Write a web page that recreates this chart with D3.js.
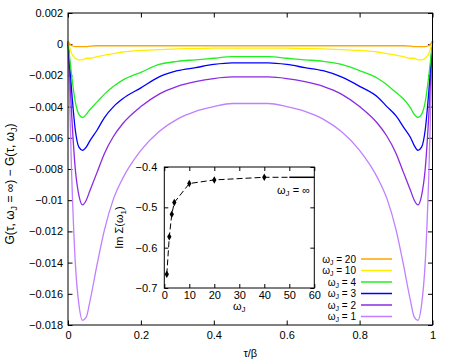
<!DOCTYPE html>
<html>
<head>
<meta charset="utf-8">
<script src="https://cdn.jsdelivr.net/npm/d3@7"></script>
<style>
    body { margin: 0; background: #fff; }
    text { font-family: "Liberation Sans", Arial, sans-serif; }
</style>
</head>
<body>
<div class="chart"></div>
<script>
// tau / beta sample points
const tau = [0, 0.01, 0.02, 0.03, 0.04, 0.05, 0.06, 0.08, 0.1, 0.125, 0.15, 0.2, 0.25, 0.3, 0.35, 0.4, 0.45, 0.5,
    0.55, 0.6, 0.65, 0.7, 0.75, 0.8, 0.85, 0.875, 0.9, 0.92, 0.94, 0.95, 0.96, 0.97, 0.98, 0.99, 1]

const g20 = [0.0002, -0.0001, -0.00015, -0.00015, -0.00015, -0.00015, -0.00012, -0.0001, -0.0001, -0.0001, -0.0001, -0.0001, -0.0001, -0.0001, -0.0001, -0.0001, -0.0001, -0.0001,
    -0.0001, -0.0001, -0.0001, -0.0001, -0.0001, -0.0001, -0.0001, -0.0001, -0.0001, -0.0001, -0.00012, -0.00015, -0.00015, -0.00015, -0.00015, -0.0001, 0.0002]
const g10 = [0.0002, -0.0006, -0.0009, -0.001, -0.001, -0.0009, -0.0009, -0.0008, -0.0007, -0.0006, -0.0005, -0.0004, -0.00035, -0.0003, -0.00028, -0.00025, -0.00025, -0.00025,
    -0.00025, -0.00025, -0.00028, -0.0003, -0.00035, -0.0004, -0.0005, -0.0006, -0.0007, -0.0008, -0.0009, -0.0009, -0.001, -0.001, -0.0009, -0.0006, 0.0002]
const g4 = [0.0002, -0.002, -0.0037, -0.0045, -0.0047, -0.0045, -0.0042, -0.0037, -0.0032, -0.0027, -0.0023, -0.0018, -0.0013, -0.0011, -0.001, -0.0009, -0.0008, -0.0008,
    -0.0008, -0.0009, -0.001, -0.0011, -0.0013, -0.0017, -0.0022, -0.0026, -0.0031, -0.0035, -0.0041, -0.0045, -0.0047, -0.0045, -0.0037, -0.002, 0.0002]
const g3 = [0.0002, -0.003, -0.0055, -0.0066, -0.0068, -0.0066, -0.0062, -0.0055, -0.0047, -0.004, -0.0035, -0.0028, -0.0021, -0.0017, -0.0015, -0.0013, -0.0012, -0.0012,
    -0.0012, -0.0013, -0.0015, -0.0017, -0.0021, -0.0027, -0.0034, -0.004, -0.0046, -0.0053, -0.006, -0.0065, -0.0068, -0.0066, -0.0055, -0.003, 0.0002]
const g2 = [0.0002, -0.0045, -0.008, -0.0097, -0.0103, -0.01, -0.0094, -0.0082, -0.007, -0.0059, -0.0051, -0.004, -0.0032, -0.0027, -0.0024, -0.0022, -0.0021, -0.0021,
    -0.0021, -0.0022, -0.0024, -0.0027, -0.0032, -0.004, -0.0051, -0.0059, -0.007, -0.0082, -0.0094, -0.01, -0.0103, -0.0097, -0.008, -0.0045, 0.0002]
const g1 = [0.0002, -0.0083, -0.014, -0.0167, -0.0177, -0.0175, -0.0165, -0.0141, -0.0119, -0.0099, -0.0086, -0.0068, -0.0056, -0.0048, -0.0043, -0.004, -0.0038, -0.0038,
    -0.0038, -0.004, -0.0043, -0.0048, -0.0056, -0.0068, -0.0086, -0.0099, -0.0119, -0.0141, -0.0165, -0.0175, -0.0177, -0.0167, -0.014, -0.0083, 0.0002]

const series = [
    { label: "20", values: g20, color: "#ffa500" },
    { label: "10", values: g10, color: "#ffee00" },
    { label: "4", values: g4, color: "#22ee22" },
    { label: "3", values: g3, color: "#0000ff" },
    { label: "2", values: g2, color: "#8a2be2" },
    { label: "1", values: g1, color: "#bf7fff" }
]

const xTicks = [0, 0.2, 0.4, 0.6, 0.8, 1]
const yTicks = [0.002, 0, -0.002, -0.004, -0.006, -0.008, -0.01, -0.012, -0.014, -0.016, -0.018]

// inset: Im Sigma(omega_1) vs omega_J
const insetOmega = [1, 2, 3, 4, 10, 20, 40]
const insetSigma = [-0.666, -0.573, -0.517, -0.488, -0.441, -0.432, -0.4255]
const sigmaInf = -0.4255
const insetXTicks = [0, 10, 20, 30, 40, 50, 60]
const insetYTicks = [-0.4, -0.5, -0.6, -0.7]

const W = 452, H = 361
const svg = d3.select(".chart").append("svg")
    .attr("width", W)
    .attr("height", H)

const fs = 11
const x = d3.scaleLinear().domain([0, 1]).range([68, 432.5])
const y = d3.scaleLinear().domain([-0.018, 0.002]).range([325, 13])

const fmt = d3.format("")

function styleAxis(g) {
    g.select(".domain").remove()
    g.selectAll(".tick line").attr("stroke", "#000")
    g.selectAll(".tick text").attr("fill", "#000").style("font-size", fs + "px")
        .style("font-family", "'Liberation Sans', Arial, sans-serif")
}

// main axes
svg.append("g")
    .attr("transform", `translate(0, ${y.range()[0]})`)
    .call(d3.axisBottom(x).tickValues(xTicks).tickFormat(fmt).tickSizeInner(-4.5).tickSizeOuter(0).tickPadding(6))
    .call(styleAxis)
svg.append("g")
    .attr("transform", `translate(0, ${y.range()[1]})`)
    .call(d3.axisTop(x).tickValues(xTicks).tickFormat("").tickSizeInner(-4.5).tickSizeOuter(0))
    .call(styleAxis)
svg.append("g")
    .attr("transform", `translate(${x.range()[0]}, 0)`)
    .call(d3.axisLeft(y).tickValues(yTicks).tickFormat(fmt).tickSizeInner(-4.5).tickSizeOuter(0).tickPadding(5))
    .call(styleAxis)
svg.append("g")
    .attr("transform", `translate(${x.range()[1]}, 0)`)
    .call(d3.axisRight(y).tickValues(yTicks).tickFormat("").tickSizeInner(-4.5).tickSizeOuter(0))
    .call(styleAxis)

// curves
const line = d3.line()
    .x((d, i) => x(tau[i]))
    .y(d => y(d))
    .curve(d3.curveMonotoneX)

svg.append("g").selectAll("path")
    .data(series.slice().reverse())
    .join("path")
    .attr("fill", "none")
    .attr("stroke", d => d.color)
    .attr("stroke-width", 1.3)
    .attr("d", d => line(d.values))

// frame
svg.append("rect")
    .attr("x", x.range()[0])
    .attr("y", y.range()[1])
    .attr("width", x.range()[1] - x.range()[0])
    .attr("height", y.range()[0] - y.range()[1])
    .attr("fill", "none")
    .attr("stroke", "#000")
    .attr("stroke-width", 1)

// helper for omega with subscript
function omegaText(sel, sub, rest, size) {
    size = size || fs
    sel.append("tspan").text("ω")
    sel.append("tspan").attr("dy", 2).style("font-size", (size - 3) + "px").text(sub)
    sel.append("tspan").attr("dy", -2).text(rest)
}

// axis titles
svg.append("text")
    .attr("x", (x.range()[0] + x.range()[1]) / 2)
    .attr("y", 357)
    .attr("text-anchor", "middle")
    .style("font-size", fs + "px")
    .text("τ/β")

const yt = svg.append("text")
    .attr("transform", "translate(14, 184) rotate(-90)")
    .attr("text-anchor", "middle")
    .style("font-size", "12px")
yt.append("tspan").text("G(τ, ω")
yt.append("tspan").attr("dy", 3).style("font-size", "9px").text("J")
yt.append("tspan").attr("dy", -3).text(" = ∞) − G(τ, ω")
yt.append("tspan").attr("dy", 3).style("font-size", "9px").text("J")
yt.append("tspan").attr("dy", -3).text(")")

// legend
const legend = svg.append("g")
series.forEach((s, i) => {
    const ly = 259 + i * 11.5
    const t = legend.append("text")
        .attr("x", 356)
        .attr("y", ly + 3.5)
        .attr("text-anchor", "end")
        .style("font-size", "10px")
    omegaText(t, "J", " = " + s.label, 10)
    legend.append("line")
        .attr("x1", 361).attr("x2", 392)
        .attr("y1", ly).attr("y2", ly)
        .attr("stroke", s.color)
        .attr("stroke-width", 1.5)
})

// inset
const ix = d3.scaleLinear().domain([0, 60]).range([164.3, 314.3])
const iy = d3.scaleLinear().domain([-0.7, -0.4]).range([288, 167])

svg.append("rect")
    .attr("x", ix.range()[0])
    .attr("y", iy.range()[1])
    .attr("width", ix.range()[1] - ix.range()[0])
    .attr("height", iy.range()[0] - iy.range()[1])
    .attr("fill", "#fff")

svg.append("g")
    .attr("transform", `translate(0, ${iy.range()[0]})`)
    .call(d3.axisBottom(ix).tickValues(insetXTicks).tickFormat(fmt).tickSizeInner(-4).tickSizeOuter(0).tickPadding(3))
    .call(styleAxis)
svg.append("g")
    .attr("transform", `translate(0, ${iy.range()[1]})`)
    .call(d3.axisTop(ix).tickValues(insetXTicks).tickFormat("").tickSizeInner(-4).tickSizeOuter(0))
    .call(styleAxis)
svg.append("g")
    .attr("transform", `translate(${ix.range()[0]}, 0)`)
    .call(d3.axisLeft(iy).tickValues(insetYTicks).tickFormat(fmt).tickSizeInner(-4).tickSizeOuter(0).tickPadding(7))
    .call(styleAxis)
svg.append("g")
    .attr("transform", `translate(${ix.range()[1]}, 0)`)
    .call(d3.axisRight(iy).tickValues(insetYTicks).tickFormat("").tickSizeInner(-4).tickSizeOuter(0))
    .call(styleAxis)

const insetData = insetOmega.map((w, i) => [w, insetSigma[i]])
svg.append("path")
    .datum(insetData.concat([[50, sigmaInf]]))
    .attr("fill", "none")
    .attr("stroke", "#000")
    .attr("stroke-width", 1)
    .attr("stroke-dasharray", "6,3")
    .attr("d", d3.line().x(d => ix(d[0])).y(d => iy(d[1])))

svg.append("line")
    .attr("x1", ix(50)).attr("x2", ix(60))
    .attr("y1", iy(sigmaInf)).attr("y2", iy(sigmaInf))
    .attr("stroke", "#000")
    .attr("stroke-width", 1.5)

svg.append("g").selectAll("path")
    .data(insetData)
    .join("path")
    .attr("transform", d => `translate(${ix(d[0])}, ${iy(d[1])})`)
    .attr("d", d3.symbol(d3.symbolDiamond, 16))
    .attr("fill", "#000")

svg.append("rect")
    .attr("x", ix.range()[0])
    .attr("y", iy.range()[1])
    .attr("width", ix.range()[1] - ix.range()[0])
    .attr("height", iy.range()[0] - iy.range()[1])
    .attr("fill", "none")
    .attr("stroke", "#000")

const inf = svg.append("text")
    .attr("x", 310)
    .attr("y", 194)
    .attr("text-anchor", "end")
    .style("font-size", fs + "px")
omegaText(inf, "J", " = ∞")

const ixt = svg.append("text")
    .attr("x", (ix.range()[0] + ix.range()[1]) / 2)
    .attr("y", 310)
    .attr("text-anchor", "middle")
    .style("font-size", fs + "px")
omegaText(ixt, "J", "")

const iyt = svg.append("text")
    .attr("transform", `translate(123, ${(iy.range()[0] + iy.range()[1]) / 2}) rotate(-90)`)
    .attr("text-anchor", "middle")
    .style("font-size", fs + "px")
iyt.append("tspan").text("Im Σ(ω")
iyt.append("tspan").attr("dy", 3).style("font-size", (fs - 3) + "px").text("1")
iyt.append("tspan").attr("dy", -3).text(")")
</script>
</body>
</html>
